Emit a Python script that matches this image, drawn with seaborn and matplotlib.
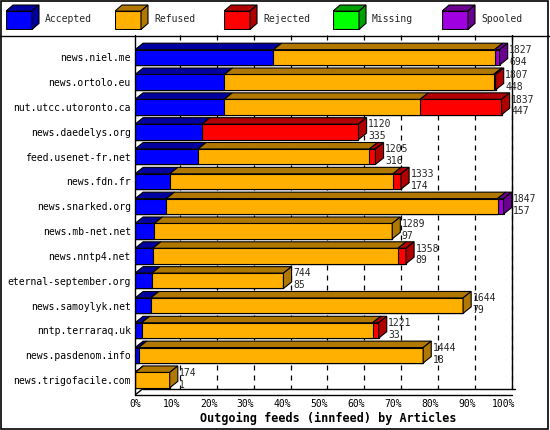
import matplotlib
matplotlib.use("Agg")
import matplotlib.pyplot as plt
import seaborn as sns
import pandas as pd
import numpy as np
from matplotlib.patches import Polygon, Rectangle

servers = ["news.niel.me", "news.ortolo.eu", "nut.utcc.utoronto.ca", "news.daedelys.org",
           "feed.usenet-fr.net", "news.fdn.fr", "news.snarked.org", "news.mb-net.net",
           "news.nntp4.net", "eternal-september.org", "news.samoylyk.net", "nntp.terraraq.uk",
           "news.pasdenom.info", "news.trigofacile.com"]
accepted = [694, 448, 447, 335, 316, 174, 157, 97, 89, 85, 79, 33, 18, 1]
refused = [1108, 1349, 982, 0, 859, 1119, 1660, 1192, 1229, 659, 1565, 1158, 1426, 173]
rejected = [0, 10, 408, 785, 30, 40, 0, 0, 40, 0, 0, 30, 0, 0]
missing = [0] * 14
spooled = [25, 0, 0, 0, 0, 0, 30, 0, 0, 0, 0, 0, 0, 0]
totals = [1827, 1807, 1837, 1120, 1205, 1333, 1847, 1289, 1358, 744, 1644, 1221, 1444, 174]

series = ["Accepted", "Refused", "Rejected", "Missing", "Spooled"]
front = ["#0000FF", "#FFB000", "#FF0000", "#00FF00", "#A000E0"]
shade = ["#0000A0", "#B07800", "#B00000", "#00A000", "#6A0090"]

vals = np.array([accepted, refused, rejected, missing, spooled], dtype=float)
scale = 100.0 / max(totals)
cum = np.cumsum(vals, axis=0) * scale

fig = plt.figure(figsize=(5.5, 4.3), dpi=100)
ax = fig.add_axes([135 / 550, 35 / 430, 387 / 550, 360 / 430])
sns.set_style("white")
mono = "DejaVu Sans Mono"
fs = 7

h = 0.62
dx, dy = 2.2, 0.26
# back-wall dashed grid
for g in range(10, 101, 10):
    ax.plot([g + dx, g + dx], [-0.9, 13.6 - dy], ls=(0, (4, 4)), color="black", lw=0.9, zorder=0)
ax.plot([100 + dx] * 2, [-0.9, 13.6 - dy], color="black", lw=1, zorder=0)
ax.plot([0, dx], [13.6, 13.6 - dy], color="black", lw=1, zorder=0)
ax.plot([dx, 100 + dx + 1], [13.6 - dy, 13.6 - dy], color="black", lw=1, zorder=0)

# front faces via seaborn, largest cumulative first
for k in range(4, -1, -1):
    df = pd.DataFrame({"server": servers, "x": cum[k]})
    sns.barplot(data=df, x="x", y="server", orient="h", color=front[k], width=h,
                edgecolor="black", linewidth=0.8, saturation=1, ax=ax, zorder=2)

# 3D tops and sides
for i in range(len(servers)):
    left = 0.0
    top = i - h / 2
    for k in range(5):
        right = cum[k][i]
        if right - left > 0:
            ax.add_patch(Polygon([[left, top], [left + dx, top - dy], [right + dx, top - dy], [right, top]],
                                 closed=True, facecolor=shade[k], edgecolor="black", lw=0.8, zorder=3))
            last = k
        left = right
    end = cum[4][i]
    ax.add_patch(Polygon([[end, top], [end + dx, top - dy], [end + dx, i + h / 2 - dy], [end, i + h / 2]],
                         closed=True, facecolor=shade[last], edgecolor="black", lw=0.8, zorder=3))
    ax.text(end + dx + 0.4, i - 0.3, str(totals[i]), fontsize=fs, family=mono, va="center", zorder=4)
    ax.text(end + dx + 0.4, i + 0.18, str(accepted[i]), fontsize=fs, family=mono, va="center", zorder=4)

ax.set_xlim(0, 105)
ax.set_ylim(13.6, -0.9)
ax.set_xticks(range(0, 101, 10))
ax.set_xticklabels([f"{t}%" for t in range(0, 101, 10)], family=mono, fontsize=fs)
ax.set_yticks(range(len(servers)))
ax.set_yticklabels(servers, family=mono, fontsize=fs)
ax.tick_params(length=0, pad=3)
ax.set_ylabel("")
ax.set_xlabel("Outgoing feeds (innfeed) by Articles", family=mono, fontsize=8.5, fontweight="bold", labelpad=2)
for s in ax.spines.values():
    s.set_visible(False)
ax.plot([0, 0], [-0.9, 13.6], color="black", lw=1, clip_on=False)
ax.plot([0, 100 + dx], [13.6, 13.6], color="black", lw=1, clip_on=False)

# legend with small boxes
for j, name in enumerate(series):
    x0 = 6 + j * 109
    lax = fig.add_axes([x0 / 550, 1 - 30 / 430, 34 / 550, 26 / 430])
    lax.add_patch(Rectangle((0, 0), 26, 18, facecolor=front[j], edgecolor="black", lw=0.8))
    lax.add_patch(Polygon([[0, 18], [7, 24], [33, 24], [26, 18]], facecolor=shade[j], edgecolor="black", lw=0.8))
    lax.add_patch(Polygon([[26, 0], [33, 6], [33, 24], [26, 18]], facecolor=shade[j], edgecolor="black", lw=0.8))
    lax.set_xlim(0, 34)
    lax.set_ylim(-0.5, 25)
    lax.axis("off")
    fig.text((x0 + 39) / 550, 1 - 19 / 430, name, family=mono, fontsize=fs, va="center")

fig.add_artist(Rectangle((0.002, 0.003), 0.995, 0.994, transform=fig.transFigure, fill=False, lw=1.2, color="black"))
fig.add_artist(plt.Line2D([0, 1], [1 - 36 / 430] * 2, transform=fig.transFigure, color="black", lw=1))
fig.savefig("out.png", dpi=100)
